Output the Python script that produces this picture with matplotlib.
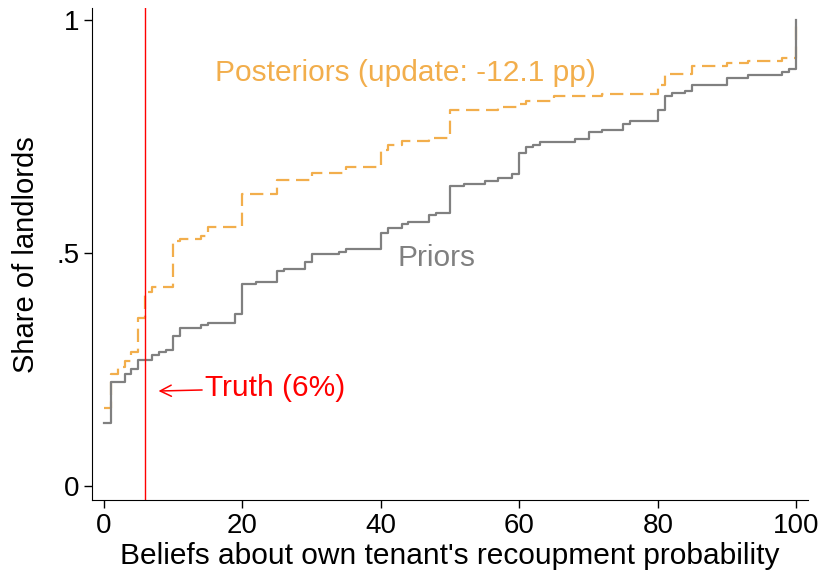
import matplotlib
matplotlib.use('Agg')
import matplotlib.pyplot as plt

prior_x = [0, 1, 3, 4, 5, 7, 8, 9, 10, 11, 14, 15, 19, 20, 22, 25, 26, 29, 30,
           34, 35, 40, 41, 43, 44, 47, 48, 50, 52, 55, 57, 59, 60, 61, 62, 63,
           68, 70, 72, 75, 76, 80, 81, 82, 84, 85, 90, 93, 98, 99, 100]
prior_share = [0.136, 0.224, 0.240, 0.251, 0.270, 0.281, 0.288, 0.293, 0.322,
               0.340, 0.346, 0.351, 0.369, 0.433, 0.438, 0.462, 0.467, 0.481,
               0.499, 0.503, 0.509, 0.544, 0.555, 0.562, 0.567, 0.582, 0.587,
               0.644, 0.649, 0.655, 0.662, 0.669, 0.714, 0.727, 0.732, 0.738,
               0.744, 0.760, 0.765, 0.778, 0.784, 0.807, 0.837, 0.843, 0.848,
               0.861, 0.877, 0.882, 0.889, 0.895, 1.0]

post_x = [0, 1, 2, 3, 4, 5, 6, 7, 10, 11, 14, 15, 20, 25, 30, 35, 40, 41, 43,
          47, 50, 57, 60, 61, 65, 72, 80, 81, 85, 90, 93, 98, 100]
post_share = [0.168, 0.240, 0.255, 0.268, 0.288, 0.360, 0.417, 0.428, 0.526,
              0.531, 0.536, 0.556, 0.628, 0.657, 0.673, 0.685, 0.721, 0.732,
              0.740, 0.748, 0.807, 0.814, 0.820, 0.827, 0.837, 0.842, 0.861,
              0.884, 0.901, 0.908, 0.912, 0.918, 1.0]

truth = 6
x_ticks = [0, 20, 40, 60, 80, 100]
y_ticks = [0, 0.5, 1]
y_ticklabels = ['0', '.5', '1']

plt.rcParams['font.family'] = ['Liberation Sans', 'DejaVu Sans']

gray = '#808080'
orange = '#F2AE4C'
fs = 21

fig = plt.figure(figsize=(8.23, 5.76), dpi=100)
ax = fig.add_axes([0.1118, 0.1319, 0.87, 0.854])

ax.step(post_x, post_share, where='post', color=orange, lw=1.6,
        dashes=(6, 3))
ax.step(prior_x, prior_share, where='post', color=gray, lw=1.6)
ax.axvline(truth, color='#FF0000', lw=1.0)

ax.text(43.5, 0.886, 'Posteriors (update: -12.1 pp)', color=orange,
        fontsize=fs + 0.5, ha='center', va='center')
ax.text(48, 0.489, 'Priors', color=gray, fontsize=fs + 0.5,
        ha='center', va='center')
ax.annotate('Truth (6%)', xy=(7.9, 0.204), xytext=(14.6, 0.21),
            color='#FF0000', fontsize=fs + 0.5, ha='left', va='center',
            arrowprops=dict(arrowstyle='->', color='#FF0000', lw=1.1,
                            shrinkA=0, shrinkB=0, mutation_scale=20))

ax.set_xlim(-1.7, 101.7)
ax.set_ylim(-0.03, 1.026)
ax.set_xticks(x_ticks)
ax.set_yticks(y_ticks)
ax.set_yticklabels(y_ticklabels)
ax.tick_params(labelsize=fs - 1, direction='out', length=6, width=1,
               pad=3)
ax.spines['top'].set_visible(False)
ax.spines['right'].set_visible(False)

ax.set_xlabel("Beliefs about own tenant's recoupment probability",
              fontsize=fs + 0.5)
ax.set_ylabel('Share of landlords', fontsize=fs)
ax.xaxis.set_label_coords(0.5, -0.086)
ax.yaxis.set_label_coords(-0.072, 0.498)

fig.savefig('out.png', dpi=100)
